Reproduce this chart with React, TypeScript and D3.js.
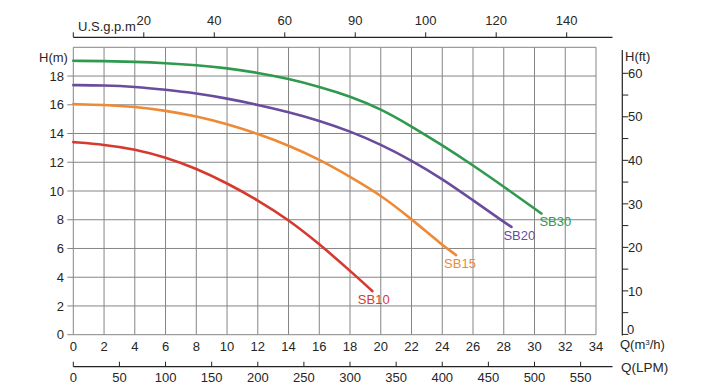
import React from "react";
import * as d3 from "d3";

const W = 705;
const H = 386;

// m³/h grid and H(m) grid
const qTicks = d3.range(0, 35, 2);
const hTicks = d3.range(0, 21, 2);
const gpmTicks = [0, 20, 40, 60, 80, 100, 120, 140];
const gpmLabels = ["", "20", "40", "60", "90", "100", "120", "140"];
const lpmTicks = [0, 50, 100, 150, 200, 250, 300, 350, 400, 450, 500, 550];
const ftMajor = [0, 10, 20, 30, 40, 50, 60];
const ftMinor = [5, 15, 25, 35, 45, 55];

const seriesNames = ["SB10", "SB15", "SB20", "SB30"];
const seriesColors = ["#d63a2e", "#ee8a35", "#6a4c9c", "#2f9a4e"];

const sb10Q = [0, 2, 4, 6, 8, 10, 12, 14, 16, 18, 19.45];
const sb10H = [13.4, 13.23, 12.92, 12.35, 11.57, 10.55, 9.36, 8.0, 6.32, 4.45, 3.04];
const sb15Q = [0, 2, 4, 6, 8, 10, 12, 14, 16, 18, 20, 22, 24, 24.9];
const sb15H = [16.05, 16.0, 15.86, 15.6, 15.2, 14.67, 13.98, 13.18, 12.2, 11.0, 9.72, 8.05, 6.23, 5.54];
const sb20Q = [0, 2, 4, 6, 8, 10, 12, 14, 16, 18, 20, 22, 24, 26, 28, 28.5];
const sb20H = [17.37, 17.35, 17.26, 17.05, 16.8, 16.44, 16.0, 15.5, 14.9, 14.16, 13.24, 12.13, 10.85, 9.36, 7.85, 7.5];
const sb30Q = [0, 2, 4, 6, 8, 10, 12, 14, 16, 18, 20, 22, 24, 26, 28, 30, 30.45];
const sb30H = [19.06, 19.04, 18.99, 18.9, 18.76, 18.55, 18.23, 17.81, 17.26, 16.6, 15.72, 14.5, 13.18, 11.79, 10.3, 8.78, 8.43];

const seriesQ = [sb10Q, sb15Q, sb20Q, sb30Q];
const seriesH = [sb10H, sb15H, sb20H, sb30H];

const textColor = "#262626";
const gridColor = "#858585";
const font = "Liberation Sans, Arial, sans-serif";

// label offsets from curve end (layout)
const labelDx = [-14.5, -12, -8, -2];
const labelDy = [12.5, 13, 13, 12.5];

export default function App() {
  const x = d3.scaleLinear().domain([0, 34]).range([73.3, 596]);
  const y = d3.scaleLinear().domain([0, 20]).range([334.7, 47.3]);
  const xGpm = d3.scaleLinear().domain([0, 153]).range([73.3, 612.5]);
  const xLpm = d3.scaleLinear().domain([0, (34 * 1000) / 60]).range([73.3, 596]);
  const yFt = d3.scaleLinear().domain([0, 60]).range([334.4, 73.3]);

  const line = d3
    .line<[number, number]>()
    .x((d) => x(d[0]))
    .y((d) => y(d[1]))
    .curve(d3.curveBasis);

  const topY = 37.3;
  const lpmY = 366.7;
  const rightX = 622.3;
  const fs = 13;

  return (
    <svg
      width={W}
      height={H}
      style={{ position: "absolute", left: 0, top: 0, background: "#fff" }}
      fontFamily={font}
    >
      <rect x={0} y={0} width={W} height={H} fill="#fff" />
      {/* grid */}
      {qTicks.map((q) => (
        <line key={"v" + q} x1={x(q)} x2={x(q)} y1={y(20)} y2={y(0)} stroke={gridColor} strokeWidth={1} />
      ))}
      {hTicks.map((h) => (
        <line key={"h" + h} x1={x(0)} x2={x(34)} y1={y(h)} y2={y(h)} stroke={gridColor} strokeWidth={1} />
      ))}
      {/* left ticks & labels */}
      {hTicks.filter((h) => h < 20).map((h) => (
        <g key={"lt" + h}>
          <line x1={x(0) - 6} x2={x(0)} y1={y(h)} y2={y(h)} stroke={gridColor} strokeWidth={1} />
          <text x={64} y={y(h)} dy="0.36em" textAnchor="end" fontSize={fs} fill={textColor}>
            {h}
          </text>
        </g>
      ))}
      <text x={39} y={61.5} fontSize={fs} fill={textColor}>H(m)</text>
      {/* bottom m3/h labels */}
      {qTicks.map((q) => (
        <text key={"bq" + q} x={x(q)} y={351} textAnchor="middle" fontSize={fs} fill={textColor}>
          {q}
        </text>
      ))}
      <text x={620} y={349} fontSize={fs} fill={textColor}>
        Q(m<tspan fontSize={8} dy={-4}>3</tspan>
        <tspan dy={4}>/h)</tspan>
      </text>
      {/* top gpm axis */}
      <line x1={xGpm(0)} x2={xGpm(153)} y1={topY} y2={topY} stroke="#222" strokeWidth={1.2} />
      {gpmTicks.map((g, i) => (
        <g key={"g" + g}>
          <line x1={xGpm(g)} x2={xGpm(g)} y1={topY} y2={topY - 5} stroke="#222" strokeWidth={1} />
          {gpmLabels[i] && (
            <text x={xGpm(g)} y={24.5} textAnchor="middle" fontSize={fs} fill={textColor}>
              {gpmLabels[i]}
            </text>
          )}
        </g>
      ))}
      <text x={78} y={31} fontSize={fs} fill={textColor}>U.S.g.p.m</text>
      {/* bottom LPM axis */}
      <line x1={xLpm(0)} x2={612.5} y1={lpmY} y2={lpmY} stroke="#222" strokeWidth={1.2} />
      {lpmTicks.map((l) => (
        <g key={"l" + l}>
          <line x1={xLpm(l)} x2={xLpm(l)} y1={lpmY} y2={lpmY - 5} stroke="#222" strokeWidth={1} />
          <text x={xLpm(l)} y={382} textAnchor="middle" fontSize={fs} fill={textColor}>
            {l}
          </text>
        </g>
      ))}
      <text x={621} y={371.5} fontSize={fs + 0.5} fill={textColor}>Q(LPM)</text>
      {/* right ft axis */}
      <line x1={rightX} x2={rightX} y1={50} y2={yFt(0) + 1} stroke="#222" strokeWidth={1.2} />
      {ftMajor.map((f) => (
        <g key={"f" + f}>
          <line x1={rightX} x2={rightX + 6} y1={yFt(f)} y2={yFt(f)} stroke="#222" strokeWidth={1} />
          <text
            x={f === 0 ? 627 : 628}
            y={f === 0 ? yFt(f) - 0.5 : yFt(f)}
            dy={f === 0 ? "0" : "0.36em"}
            fontSize={fs}
            fill={textColor}
          >
            {f}
          </text>
        </g>
      ))}
      {ftMinor.map((f) => (
        <line key={"fm" + f} x1={rightX} x2={rightX + 6} y1={yFt(f)} y2={yFt(f)} stroke="#222" strokeWidth={1} />
      ))}
      <text x={625} y={61} fontSize={fs} fill={textColor}>H(ft)</text>
      {/* curves */}
      {seriesNames.map((name, i) => {
        const pts: [number, number][] = seriesQ[i].map((q, j) => [q, seriesH[i][j]]);
        return (
          <path key={name} d={line(pts) || ""} fill="none" stroke={seriesColors[i]} strokeWidth={2.6} strokeLinecap="round" />
        );
      })}
      {seriesNames.map((name, i) => {
        const q = seriesQ[i];
        const h = seriesH[i];
        const lq = q[q.length - 1];
        const lh = h[h.length - 1];
        return (
          <text
            key={"lab" + name}
            x={x(lq) + labelDx[i]}
            y={y(lh) + labelDy[i]}
            fontSize={fs}
            fill={seriesColors[i]}
          >
            {name}
          </text>
        );
      })}
    </svg>
  );
}
